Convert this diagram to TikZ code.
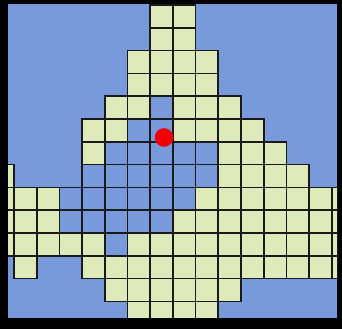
\documentclass[tikz,border=0pt]{standalone}
\usepackage{xcolor}
\usepackage{tikz}
\definecolor{fieldblue}{RGB}{120,154,218}
\definecolor{cellgreen}{RGB}{222,234,186}
\colorlet{gridline}{black!90}
\colorlet{dotred}{red!95!black}

\begin{document}
\begin{tikzpicture}[x=22.7pt,y=-22.8pt]
\useasboundingbox (-0.617,-0.22) rectangle (14.449,14.21);
% black frame and blue field
\fill[black] (-0.617,-0.22) rectangle (14.449,14.21);
\fill[fieldblue] (-0.264,-0.04) rectangle (14.23,13.72);
\begin{scope}
\clip (-0.264,-0.04) rectangle (14.23,13.72);
% green cells, row by row (row/columns)
\foreach \r/\cols in {0/{6,7},1/{6,7},2/{5,6,7,8},3/{5,6,7,8},4/{4,5,7,8,9},
  5/{3,4,7,8,9,10},6/{3,9,10,11},7/{-1,9,10,11,12},8/{-1,0,1,8,9,10,11,12,13,14},
  9/{-1,0,1,7,8,9,10,11,12,13,14},10/{-1,0,1,2,3,5,6,7,8,9,10,11,12,13,14},
  11/{0,3,4,5,6,7,8,9,10,11,12,13,14},12/{4,5,6,7,8,9},13/{5,6,7,8}}{
  \foreach \c in \cols {\fill[cellgreen] (\c,\r) rectangle ++(1,1);}
}
% grid: every cell inside the outline, green or blue
\foreach \r/\cols in {0/{6,7},1/{6,7},2/{5,...,8},3/{5,...,8},4/{4,...,9},
  5/{3,...,10},6/{3,...,11},7/{-1,3,4,...,12},8/{-1,...,14},9/{-1,...,14},
  10/{-1,...,14},11/{0,3,4,...,14},12/{4,...,9},13/{5,...,8}}{
  \foreach \c in \cols {\draw[gridline,line width=1.7pt] (\c,\r) rectangle ++(1,1);}
}
\end{scope}
% red marker
\fill[dotred] (6.61,5.81) circle (9.3pt);
\end{tikzpicture}
\end{document}
